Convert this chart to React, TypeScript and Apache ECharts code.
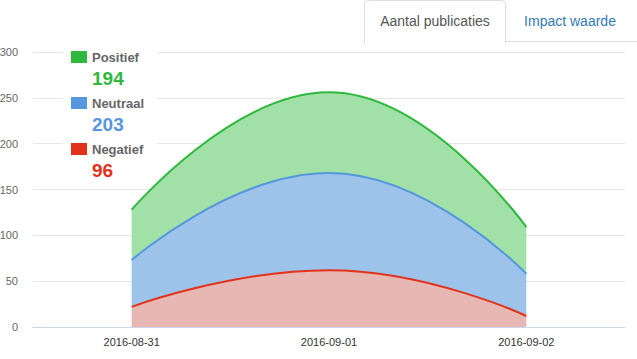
import React, { useEffect, useRef } from "react";
import * as echarts from "echarts";

const categories = ["2016-08-31", "2016-09-01", "2016-09-02"];
const negatief = [22, 62, 12];
const neutraal = [51, 106, 46];
const positief = [55, 88, 51];
const yTicks = [0, 50, 100, 150, 200, 250, 300];
const legendNames = ["Positief", "Neutraal", "Negatief"];
const legendTotals = ["194", "203", "96"];
const tabLabels = ["Aantal publicaties", "Impact waarde"];

const FONT = "'Helvetica Neue', Helvetica, 'Liberation Sans', Arial, sans-serif";
const GREEN = "#2eb83e";
const BLUE = "#5596dd";
const RED = "#e2321a";

export default function App() {
  const ref = useRef<HTMLDivElement>(null);
  useEffect(() => {
    if (!ref.current) return;
    const chart = echarts.init(ref.current, undefined, { renderer: "svg" });
    const legendColors = [GREEN, BLUE, RED];
    const legendGraphics: any[] = [];
    legendNames.forEach((name, i) => {
      const y0 = 51 + i * 46;
      legendGraphics.push({
        type: "rect",
        z: 20,
        shape: { x: 71, y: y0, width: 16, height: 12 },
        style: { fill: legendColors[i] },
      });
      legendGraphics.push({
        type: "text",
        z: 20,
        x: 92,
        y: y0 + 6,
        style: {
          text: name,
          fill: "#666666",
          font: `bold 13px ${FONT}`,
          verticalAlign: "middle",
        },
      });
      legendGraphics.push({
        type: "text",
        z: 20,
        x: 92,
        y: y0 + 27,
        style: {
          text: legendTotals[i],
          fill: legendColors[i],
          font: `bold 19px ${FONT}`,
          verticalAlign: "middle",
        },
      });
    });

    const option: any = {
      animation: false,
      grid: { left: 33, right: 12, top: 52, bottom: 32, outerBoundsMode: "none", containLabel: false },
      xAxis: {
        type: "category",
        data: categories,
        boundaryGap: true,
        axisLine: { lineStyle: { color: "#ccd6eb", width: 1 } },
        axisTick: { alignWithLabel: true, length: 10, lineStyle: { color: "#ccd6eb" } },
        axisLabel: { color: "#333333", fontSize: 11, fontFamily: FONT, margin: 9 },
        splitLine: { show: false },
      },
      yAxis: {
        type: "value",
        min: yTicks[0],
        max: yTicks[yTicks.length - 1],
        interval: 50,
        axisLine: { show: false },
        axisTick: { show: false },
        axisLabel: { color: "#666666", fontSize: 11, fontFamily: FONT, margin: 15 },
        splitLine: { lineStyle: { color: "#e6e6e6", width: 1 } },
      },
      series: [
        {
          name: "Negatief",
          type: "line",
          stack: "total",
          smooth: 0.5,
          symbol: "none",
          data: negatief,
          z: 5,
          lineStyle: { color: RED, width: 2 },
          itemStyle: { color: RED },
          areaStyle: { color: "#e6b7b3", opacity: 1 },
        },
        {
          name: "Neutraal",
          type: "line",
          stack: "total",
          smooth: 0.5,
          symbol: "none",
          data: neutraal,
          z: 4,
          lineStyle: { color: BLUE, width: 2 },
          itemStyle: { color: BLUE },
          areaStyle: { color: "#9ec3ea", opacity: 1 },
        },
        {
          name: "Positief",
          type: "line",
          stack: "total",
          smooth: 0.5,
          symbol: "none",
          data: positief,
          z: 3,
          lineStyle: { color: GREEN, width: 2 },
          itemStyle: { color: GREEN },
          areaStyle: { color: "#a1e1a8", opacity: 1 },
        },
      ],
      graphic: [
        {
          type: "rect",
          z: 1,
          shape: { x: 63, y: 44, width: 94, height: 145 },
          style: { fill: "#ffffff" },
        },
        {
          type: "rect",
          z: 20,
          shape: { x: 364.5, y: 0.5, width: 141, height: 42, r: [4, 4, 0, 0] },
          style: { fill: "#ffffff", stroke: "#dddddd", lineWidth: 1 },
        },
        {
          type: "rect",
          z: 21,
          shape: { x: 365, y: 40, width: 140, height: 4 },
          style: { fill: "#ffffff" },
        },
        {
          type: "line",
          z: 20,
          shape: { x1: 505, y1: 41.5, x2: 637, y2: 41.5 },
          style: { stroke: "#dddddd", lineWidth: 1 },
        },
        {
          type: "text",
          z: 22,
          x: 435,
          y: 21,
          style: {
            text: tabLabels[0],
            fill: "#555555",
            font: `14px ${FONT}`,
            align: "center",
            verticalAlign: "middle",
          },
        },
        {
          type: "text",
          z: 22,
          x: 570,
          y: 21,
          style: {
            text: tabLabels[1],
            fill: "#337ab7",
            font: `14px ${FONT}`,
            align: "center",
            verticalAlign: "middle",
          },
        },
        ...legendGraphics,
      ],
    };
    chart.setOption(option);
    return () => chart.dispose();
  }, []);
  return (
    <div
      ref={ref}
      style={{ position: "absolute", left: 0, top: 0, width: 637, height: 359, background: "#ffffff" }}
    />
  );
}
